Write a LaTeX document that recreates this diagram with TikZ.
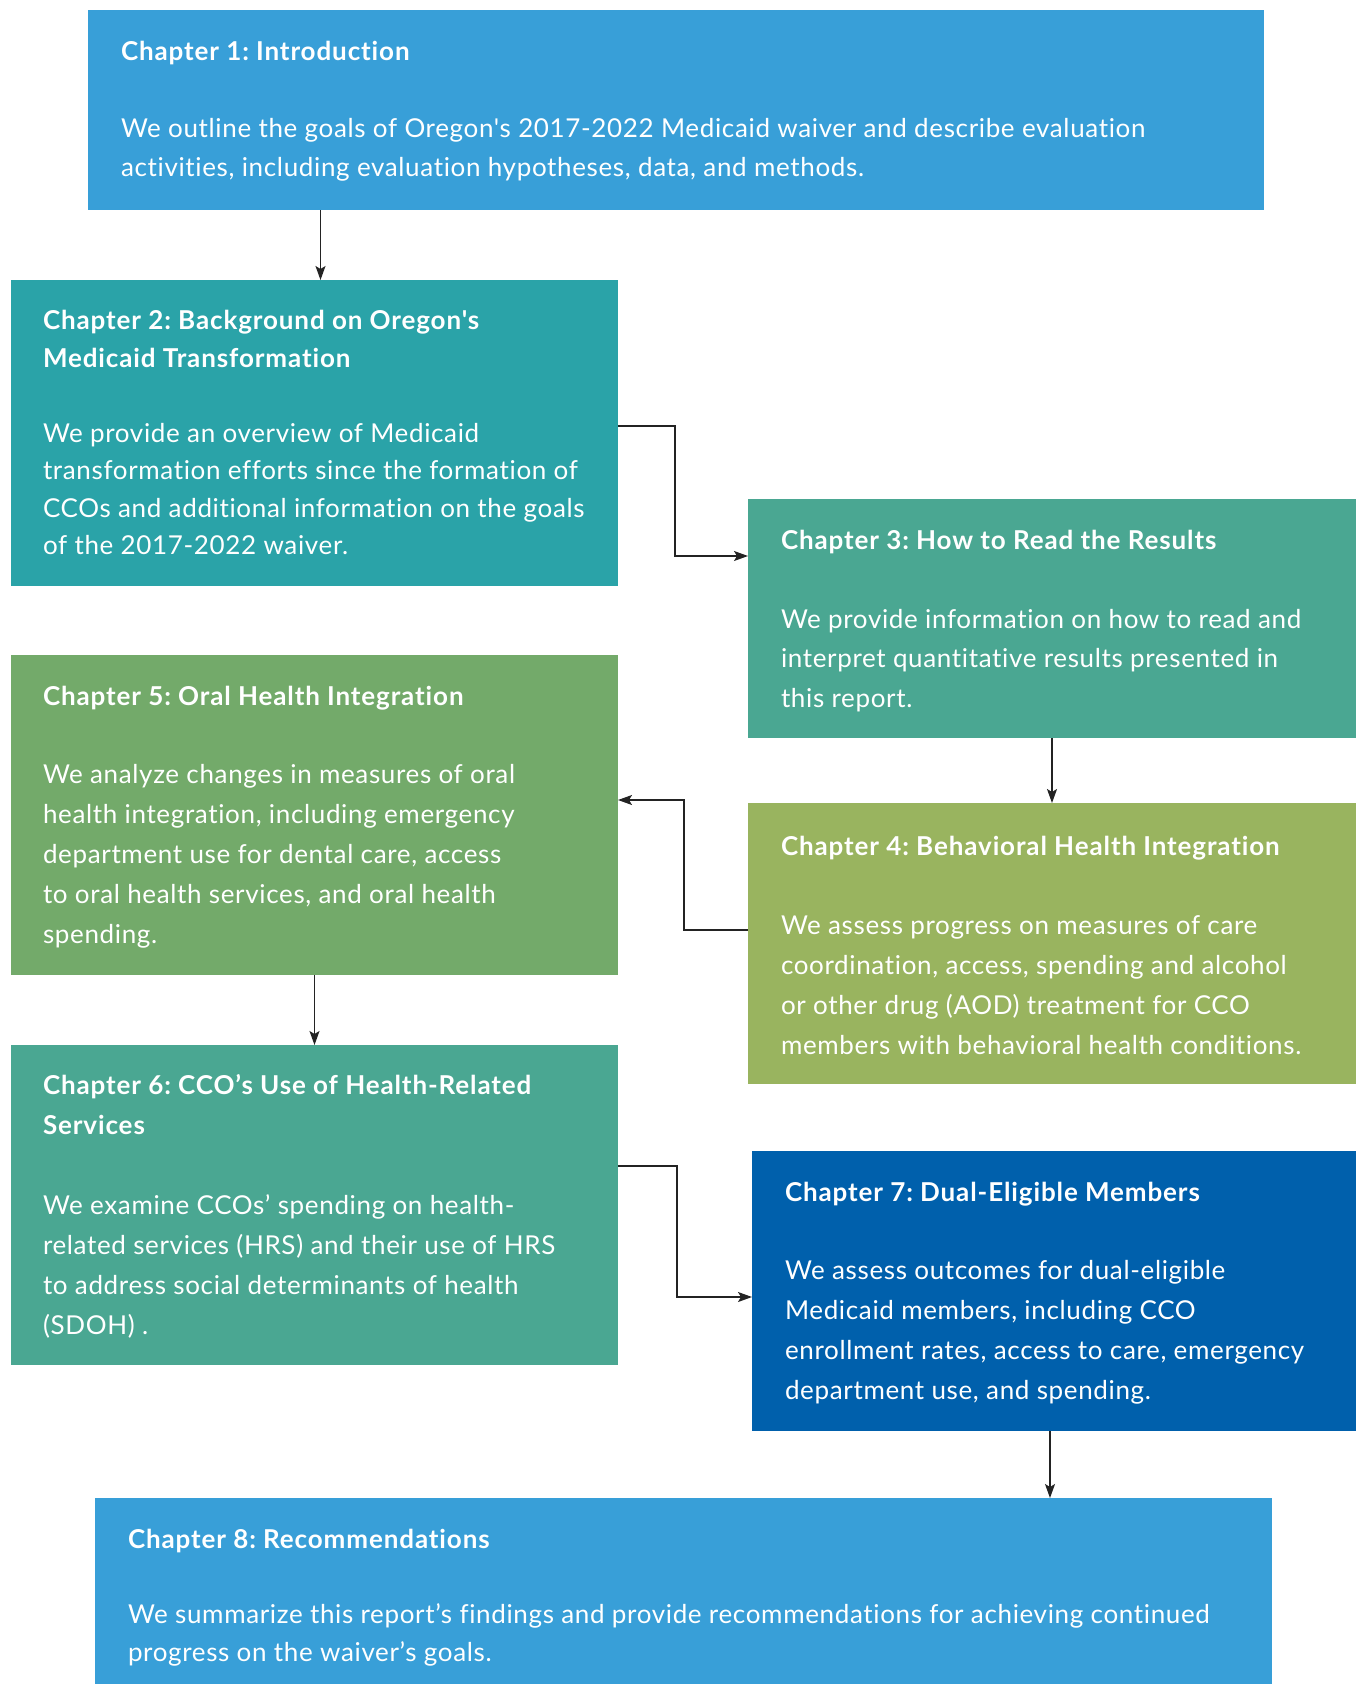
\documentclass[tikz,border=0pt]{standalone}
\usepackage{fontspec}
\setmainfont{Lato}[Ligatures={TeXOff,CommonOff}, LetterSpace=2.5, BoldFeatures={LetterSpace=3.4}]
\usetikzlibrary{arrows.meta,calc}
\definecolor{cblue}{RGB}{56,159,216}
\definecolor{cteal}{RGB}{42,163,168}
\definecolor{cgreen}{RGB}{74,167,146}
\definecolor{colive}{RGB}{153,180,95}
\definecolor{cleaf}{RGB}{115,170,106}
\definecolor{cnavy}{RGB}{0,96,172}
\definecolor{cline}{RGB}{35,35,35}
\frenchspacing
\newcommand{\chlines}[2]{\fontsize{26}{#1}\selectfont\begin{tabular}[t]{@{}l@{}}#2\end{tabular}}
\tikzset{
  chbox/.style={draw=none, inner sep=0pt, outer sep=0pt, anchor=north west},
  ttl/.style={anchor=base west, inner sep=0pt, outer sep=0pt, text=white, font=\bfseries},
  bdy/.style={anchor=base west, inner sep=0pt, outer sep=0pt, text=white},
  conn/.style={draw=cline, line width=1.3pt, -{Stealth[length=14pt,width=10pt,inset=3pt]}},
}
\begin{document}
\begin{tikzpicture}[x=1pt,y=-1pt]
\useasboundingbox (0,0) rectangle (1356,1684);
% boxes
\node[chbox, fill=cblue, minimum width=1176pt, minimum height=200pt] (b1) at (88,10) {};
\node[chbox, fill=cteal, minimum width=607pt, minimum height=306pt] (b2) at (11,280) {};
\node[chbox, fill=cgreen, minimum width=608pt, minimum height=239pt] (b3) at (748,499) {};
\node[chbox, fill=colive, minimum width=608pt, minimum height=281pt] (b4) at (748,803) {};
\node[chbox, fill=cleaf, minimum width=607pt, minimum height=320pt] (b5) at (11,655) {};
\node[chbox, fill=cgreen, minimum width=607pt, minimum height=320pt] (b6) at (11,1045) {};
\node[chbox, fill=cnavy, minimum width=604pt, minimum height=280pt] (b7) at (752,1151) {};
\node[chbox, fill=cblue, minimum width=1177pt, minimum height=186pt] (b8) at (95,1498) {};
% texts
\node[ttl] (t1) at (121,60) {\chlines{39}{Chapter 1: Introduction}};
\node[bdy] (d1) at (121,137) {\chlines{39.5}{We outline the goals of Oregon's 2017-2022 Medicaid waiver and describe evaluation\\activities, including evaluation hypotheses, data, and methods.}};
\node[ttl] (t2) at (43,329) {\chlines{38}{Chapter 2: Background on Oregon's\\Medicaid Transformation}};
\node[bdy] (d2) at (43,442) {\chlines{37.6}{We provide an overview of Medicaid\\transformation efforts since the formation of\\CCOs and additional information on the goals\\of the 2017-2022 waiver.}};
\node[ttl] (t3) at (781,549) {\chlines{39}{Chapter 3: How to Read the Results}};
\node[bdy] (d3) at (781,628) {\chlines{39.5}{We provide information on how to read and\\interpret quantitative results presented in\\this report.}};
\node[ttl] (t4) at (781,855) {\chlines{39}{Chapter 4: Behavioral Health Integration}};
\node[bdy] (d4) at (781,934) {\chlines{40}{We assess progress on measures of care\\coordination, access, spending and alcohol\\or other drug (AOD) treatment for CCO\\members with behavioral health conditions.}};
\node[ttl] (t5) at (43,705) {\chlines{39}{Chapter 5: Oral Health Integration}};
\node[bdy] (d5) at (43,783) {\chlines{40}{We analyze changes in measures of oral\\health integration, including emergency\\department use for dental care, access\\to oral health services, and oral health\\spending.}};
\node[ttl] (t6) at (43,1094) {\chlines{40}{Chapter 6: CCO’s Use of Health-Related\\Services}};
\node[bdy] (d6) at (43,1214) {\chlines{40}{We examine CCOs’ spending on health-\\related services (HRS) and their use of HRS\\to address social determinants of health\\(SDOH) .}};
\node[ttl] (t7) at (785,1201) {\chlines{39}{Chapter 7: Dual-Eligible Members}};
\node[bdy] (d7) at (785,1279) {\chlines{40}{We assess outcomes for dual-eligible\\Medicaid members, including CCO\\enrollment rates, access to care, emergency\\department use, and spending.}};
\node[ttl] (t8) at (128,1548) {\chlines{39}{Chapter 8: Recommendations}};
\node[bdy] (d8) at (128,1623) {\chlines{38}{We summarize this report’s findings and provide recommendations for achieving continued\\progress on the waiver’s goals.}};
% connector points
\coordinate (c2out) at ($(b2.north east)+(0,146)$);
\coordinate (c3in) at ($(b3.north west)+(0,57)$);
\coordinate (c4out) at ($(b4.north west)+(0,127)$);
\coordinate (c5in) at ($(b5.north east)+(0,145)$);
\coordinate (c6out) at ($(b6.north east)+(0,121)$);
\coordinate (c7in) at ($(b7.north west)+(0,146)$);
% connectors
\draw[conn] ([xshift=6pt]b2.north |- b1.south) -- ([xshift=6pt]b2.north);
\draw[conn] (c2out) -- ++(57,0) |- (c3in);
\draw[conn] (b3.south) -- (b3.south |- b4.north);
\draw[conn] (c4out) -- ++(-64,0) |- (c5in);
\draw[conn] (b5.south) -- (b6.north);
\draw[conn] (c6out) -- ++(59,0) |- (c7in);
\draw[conn] ([xshift=-4pt]b7.south) -- ([xshift=-4pt]b7.south |- b8.north);
\end{tikzpicture}
\end{document}
